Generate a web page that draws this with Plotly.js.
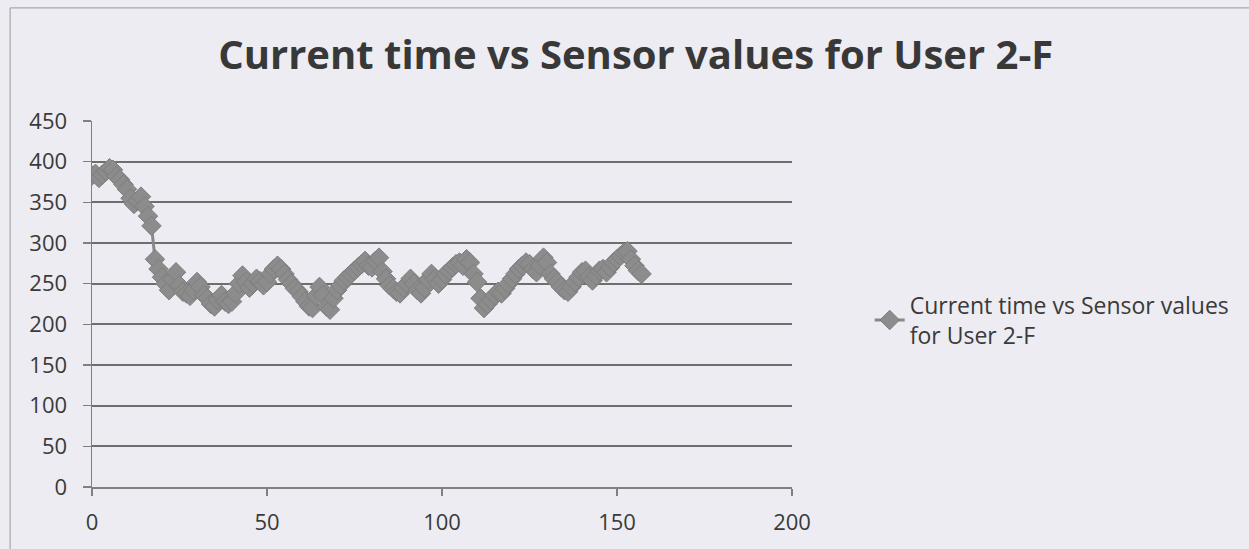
<!DOCTYPE html>
<html>
<head>
<meta charset="utf-8">
<script src="https://cdn.plot.ly/plotly-3.0.1.min.js"></script>
<style>
  html, body { margin: 0; padding: 0; background: #ececf2; }
  #chart { width: 1249px; height: 549px; }
</style>
</head>
<body>
<div id="chart"></div>
<script>
// Current time (x) and sensor values (y)
var currentTime = [];
for (var i = 0; i <= 157; i++) { currentTime.push(i); }

var sensorValues = [
  383, 385, 380, 384, 388, 392, 390, 382, 378, 372,
  366, 355, 348, 352, 357, 345, 333, 321, 280, 268,
  258, 250, 242, 255, 264, 248, 240, 238, 235, 242,
  252, 246, 236, 232, 225, 222, 230, 236, 228, 225,
  228, 238, 250, 260, 252, 245, 250, 256, 253, 248,
  252, 262, 268, 272, 268, 262, 255, 250, 244, 240,
  234, 228, 222, 220, 235, 246, 236, 222, 218, 232,
  242, 248, 254, 258, 262, 266, 270, 274, 278, 272,
  270, 278, 282, 265, 256, 248, 244, 240, 238, 245,
  250, 256, 250, 242, 238, 245, 255, 262, 256, 250,
  255, 262, 266, 270, 274, 276, 272, 280, 276, 262,
  252, 232, 220, 225, 230, 236, 240, 238, 244, 250,
  256, 262, 268, 272, 276, 274, 268, 264, 272, 282,
  276, 262, 256, 252, 246, 242, 240, 246, 252, 258,
  264, 266, 258, 254, 260, 266, 268, 264, 270, 276,
  280, 284, 288, 290, 280, 272, 266, 262
];

var seriesName = 'Current time vs Sensor values<br>for User 2-F';
var chartTitle = 'Current time vs Sensor values for User 2-F';
var xTicks = [0, 50, 100, 150, 200];
var yTicks = [0, 50, 100, 150, 200, 250, 300, 350, 400, 450];

var trace = {
  x: currentTime,
  y: sensorValues,
  type: 'scatter',
  mode: 'lines+markers',
  name: seriesName,
  line: { color: '#888888', width: 3 },
  marker: { symbol: 'diamond', size: 15, color: '#8c8c8c', line: { color: '#7e7e7e', width: 1 } }
};

var tickFont = { family: 'Open Sans, sans-serif', size: 22, color: '#3a3a3a' };

var layout = {
  width: 1249,
  height: 549,
  paper_bgcolor: '#ececf2',
  plot_bgcolor: '#ececf2',
  margin: { l: 92, r: 457, t: 121, b: 62 },
  title: {
    text: '<b>' + chartTitle + '</b>',
    font: { family: 'Open Sans, sans-serif', size: 40, color: '#383838' },
    xref: 'container', x: 0.509, xanchor: 'center',
    yref: 'container', y: 0.9, yanchor: 'middle'
  },
  xaxis: {
    range: [0, 200],
    tickvals: xTicks,
    ticktext: xTicks.map(String),
    showgrid: false,
    zeroline: false,
    showline: true,
    linecolor: '#808080',
    linewidth: 1.5,
    ticks: 'outside',
    ticklen: 7,
    tickcolor: '#808080',
    tickwidth: 1.5,
    ticklabelstandoff: 8,
    tickfont: tickFont
  },
  yaxis: {
    range: [0, 450],
    tickvals: yTicks,
    ticktext: yTicks.map(String),
    showgrid: true,
    gridcolor: '#6e6e6e',
    gridwidth: 1.8,
    zeroline: false,
    showline: true,
    linecolor: '#808080',
    linewidth: 1.5,
    ticks: 'outside',
    ticklen: 8,
    tickcolor: '#808080',
    tickwidth: 1.5,
    ticklabelstandoff: 11,
    tickfont: tickFont
  },
  showlegend: true,
  legend: {
    x: 1.111, xanchor: 'left',
    y: 0.456, yanchor: 'middle',
    bgcolor: 'rgba(0,0,0,0)',
    font: { family: 'Open Sans, sans-serif', size: 23, color: '#3a3a3a' }
  },
  shapes: [
    { type: 'line', xref: 'paper', yref: 'paper', x0: -0.117, x1: 1.66, y0: 1.309, y1: 1.309, line: { color: '#9a9a9a', width: 1 } },
    { type: 'line', xref: 'paper', yref: 'paper', x0: -0.117, x1: -0.117, y0: 1.309, y1: -0.2, line: { color: '#9a9a9a', width: 1 } }
  ]
};

Plotly.newPlot('chart', [trace], layout, { displayModeBar: false, staticPlot: true });
</script>
</body>
</html>
